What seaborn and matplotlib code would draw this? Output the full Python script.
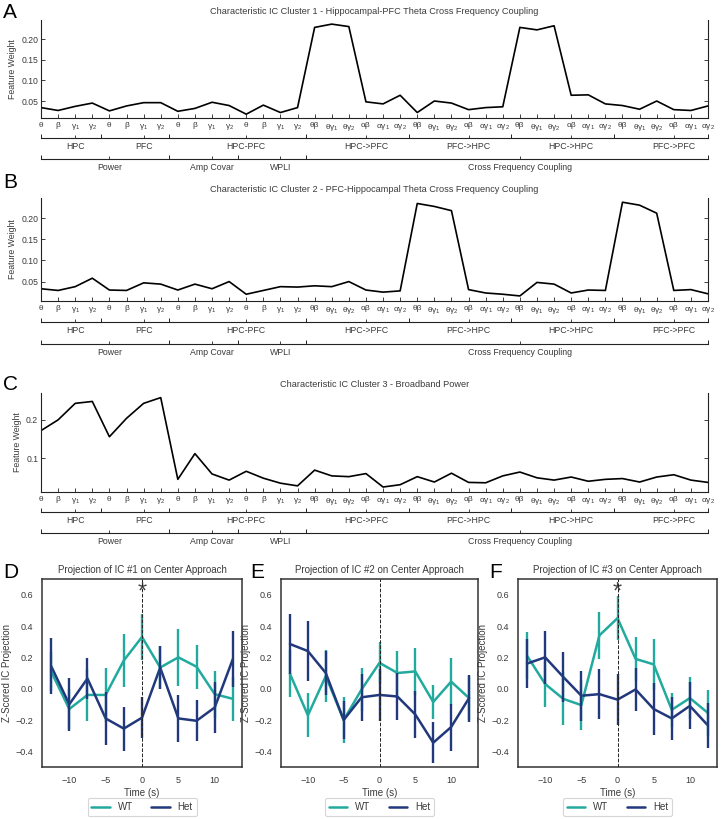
import numpy as np
import pandas as pd
import matplotlib
matplotlib.use("Agg")
import matplotlib.pyplot as plt
import seaborn as sns

# ---------------- data ----------------
feature_labels = (['θ', 'β', r'γ$_1$', r'γ$_2$'] * 4 +
                  ['θβ', r'θγ$_1$', r'θγ$_2$', 'αβ', r'αγ$_1$', r'αγ$_2$'] * 4)

region_groups = ['HPC', 'PFC', 'HPC-PFC', 'HPC->PFC', 'PFC->HPC', 'HPC->HPC', 'PFC->PFC']
region_sizes = [4, 4, 8, 6, 6, 6, 6]
measure_groups = ['Power', 'Amp Covar', 'WPLI', 'Cross Frequency Coupling']
measure_sizes = [8, 4, 4, 24]

cluster1 = [0.034, 0.027, 0.037, 0.045, 0.026, 0.038, 0.046, 0.046,
            0.025, 0.032, 0.047, 0.039, 0.018, 0.040, 0.022, 0.034,
            0.229, 0.237, 0.231, 0.048, 0.043, 0.064,
            0.022, 0.050, 0.045, 0.029, 0.034, 0.036,
            0.229, 0.223, 0.233, 0.064, 0.065, 0.043,
            0.039, 0.030, 0.050, 0.029, 0.027, 0.038]
cluster2 = [0.033, 0.029, 0.038, 0.058, 0.030, 0.029, 0.047, 0.044,
            0.030, 0.044, 0.033, 0.050, 0.020, 0.029, 0.038, 0.037,
            0.040, 0.038, 0.050, 0.030, 0.025, 0.028,
            0.235, 0.228, 0.218, 0.031, 0.023, 0.020,
            0.016, 0.048, 0.044, 0.023, 0.030, 0.029,
            0.238, 0.231, 0.212, 0.029, 0.031, 0.021]
cluster3 = [0.172, 0.200, 0.243, 0.248, 0.156, 0.204, 0.243, 0.258,
            0.045, 0.112, 0.059, 0.043, 0.066, 0.048, 0.035, 0.028,
            0.069, 0.054, 0.052, 0.060, 0.025, 0.031,
            0.052, 0.038, 0.061, 0.037, 0.036, 0.054,
            0.064, 0.049, 0.043, 0.051, 0.040, 0.045,
            0.047, 0.038, 0.051, 0.057, 0.043, 0.037]

cluster_titles = [
    'Characteristic IC Cluster 1 - Hippocampal-PFC Theta Cross Frequency Coupling',
    'Characteristic IC Cluster 2 - PFC-Hippocampal Theta Cross Frequency Coupling',
    'Characteristic IC Cluster 3 - Broadband Power',
]

times = [-12.5, -10, -7.5, -5, -2.5, 0, 2.5, 5, 7.5, 10, 12.5]
genotypes = ['WT', 'Het']

ic1_wt = [0.11, -0.13, -0.04, -0.04, 0.18, 0.33, 0.135, 0.20, 0.14, -0.035, -0.065]
ic1_wt_err = [0.125, 0.13, 0.165, 0.17, 0.17, 0.145, 0.14, 0.18, 0.14, 0.15, 0.14]
ic1_het = [0.145, -0.10, 0.065, -0.19, -0.255, -0.185, 0.135, -0.19, -0.205, -0.12, 0.19]
ic1_het_err = [0.18, 0.17, 0.13, 0.17, 0.14, 0.13, 0.14, 0.15, 0.13, 0.16, 0.18]

ic2_wt = [0.095, -0.17, 0.08, -0.20, -0.005, 0.165, 0.10, 0.11, -0.085, 0.045, -0.06]
ic2_wt_err = [0.15, 0.14, 0.165, 0.145, 0.14, 0.13, 0.14, 0.15, 0.11, 0.15, 0.14]
ic2_het = [0.285, 0.24, 0.10, -0.20, -0.055, -0.04, -0.05, -0.165, -0.345, -0.245, -0.06]
ic2_het_err = [0.19, 0.19, 0.14, 0.12, 0.15, 0.165, 0.15, 0.15, 0.13, 0.15, 0.15]

ic3_wt = [0.21, 0.03, -0.065, -0.105, 0.34, 0.45, 0.19, 0.155, -0.135, -0.06, -0.155]
ic3_wt_err = [0.15, 0.145, 0.17, 0.16, 0.15, 0.14, 0.14, 0.165, 0.11, 0.135, 0.145]
ic3_het = [0.16, 0.20, 0.075, -0.045, -0.035, -0.07, -0.005, -0.13, -0.19, -0.11, -0.235]
ic3_het_err = [0.155, 0.17, 0.16, 0.16, 0.16, 0.165, 0.14, 0.165, 0.14, 0.15, 0.145]

ic_titles = ['Projection of IC #1 on Center Approach',
             'Projection of IC #2 on Center Approach',
             'Projection of IC #3 on Center Approach']
significant = [True, False, True]

# ---------------- style ----------------
sns.set_style('white')
plt.rcParams['font.family'] = ['Liberation Sans', 'DejaVu Sans']
plt.rcParams['mathtext.fontset'] = 'custom'
plt.rcParams['mathtext.rm'] = 'Liberation Sans'
plt.rcParams['mathtext.it'] = 'Liberation Sans:italic'
plt.rcParams['mathtext.default'] = 'regular'

W_PX, H_PX = 721, 819
fig = plt.figure(figsize=(W_PX / 100, H_PX / 100), dpi=100)

def rect(left, top, right, bottom):
    return [left / W_PX, 1 - bottom / H_PX, (right - left) / W_PX, (bottom - top) / H_PX]

text_col = '#3a3a3a'
palette = {'WT': '#22aa9e', 'Het': '#22387c'}

# ---------------- top panels ----------------
top_specs = [
    dict(data=cluster1, top=20, bottom=118, ylim=(0.0087, 0.247),
         yticks=[0.05, 0.10, 0.15, 0.20], fmt='{:.2f}', row1=138, row2=159, letter='A', ly=12),
    dict(data=cluster2, top=198, bottom=301, ylim=(0.004, 0.248),
         yticks=[0.05, 0.10, 0.15, 0.20], fmt='{:.2f}', row1=322, row2=344, letter='B', ly=183),
    dict(data=cluster3, top=393, bottom=492, ylim=(0.012, 0.270),
         yticks=[0.1, 0.2], fmt='{:.1f}', row1=512, row2=533, letter='C', ly=385),
]
L_PX, R_PX = 41, 708
n_feat = len(feature_labels)


def bracket(y_px, names, sizes):
    bax = fig.add_axes(rect(L_PX, y_px, R_PX, y_px + 0.1))
    bax.set_xlim(0, n_feat - 1)
    bax.set_ylim(0, 1)
    for s in ['top', 'left', 'right']:
        bax.spines[s].set_visible(False)
    bax.spines['bottom'].set_linewidth(0.8)
    bax.spines['bottom'].set_color('#222222')
    sizes = np.array(sizes)
    starts = np.concatenate([[0], np.cumsum(sizes)[:-1]])
    ends = starts + sizes - 1
    bounds = [0] + list(ends[:-1] + 0.5) + [n_feat - 1]
    centers = (starts + ends + 1) / 2
    bax.set_xticks(bounds)
    bax.set_xticklabels([''] * len(bounds))
    bax.set_xticks(centers, minor=True)
    bax.set_xticklabels(names, minor=True)
    bax.tick_params(axis='x', which='major', bottom=True, direction='in', length=3,
                    width=0.7, color='#222222')
    bax.tick_params(axis='x', which='minor', bottom=True, direction='in', length=2,
                    width=0.6, color='#222222', labelsize=6.3, pad=3, labelcolor=text_col)
    bax.set_yticks([])
    bax.patch.set_alpha(0)


for spec, title in zip(top_specs, cluster_titles):
    ax = fig.add_axes(rect(L_PX, spec['top'], R_PX, spec['bottom']))
    sns.lineplot(x=np.arange(n_feat), y=spec['data'], ax=ax, color='black', lw=1.2)
    ax.set_xlim(0, n_feat - 1)
    ax.set_ylim(*spec['ylim'])
    ax.set_xticks(np.arange(n_feat))
    ax.set_xticklabels(feature_labels)
    ax.set_yticks(spec['yticks'])
    ax.set_yticklabels([spec['fmt'].format(v) for v in spec['yticks']])
    ax.spines['top'].set_visible(False)
    for s in ['left', 'right', 'bottom']:
        ax.spines[s].set_linewidth(0.8)
        ax.spines[s].set_color('#222222')
    ax.tick_params(axis='both', which='major', direction='in', length=3, width=0.6,
                   color='#222222', labelcolor=text_col)
    ax.tick_params(axis='x', bottom=True, labelsize=6, pad=3)
    ax.tick_params(axis='y', left=True, right=True, labelright=False, labelsize=6.2, pad=2)
    ax.set_ylabel('Feature Weight', fontsize=6.3, color=text_col, labelpad=3)
    ax.set_title(title, fontsize=6.6, color=text_col, pad=4)
    fig.text(3 / W_PX, 1 - spec['ly'] / H_PX, spec['letter'], fontsize=15,
             va='center', ha='left', color='black')
    bracket(spec['row1'], region_groups, region_sizes)
    bracket(spec['row2'], measure_groups, measure_sizes)

# ---------------- bottom panels ----------------
bottom_specs = [
    dict(l=42, r=242, wt=ic1_wt, wte=ic1_wt_err, het=ic1_het, hete=ic1_het_err, letter='D', lx=3),
    dict(l=281, r=478, wt=ic2_wt, wte=ic2_wt_err, het=ic2_het, hete=ic2_het_err, letter='E', lx=250),
    dict(l=518, r=717, wt=ic3_wt, wte=ic3_wt_err, het=ic3_het, hete=ic3_het_err, letter='F', lx=489),
]
B_TOP, B_BOT = 579, 767

for spec, title, sig in zip(bottom_specs, ic_titles, significant):
    ax = fig.add_axes(rect(spec['l'], B_TOP, spec['r'], B_BOT))
    df = pd.DataFrame({
        'time': times * 2,
        'proj': list(spec['wt']) + list(spec['het']),
        'err': list(spec['wte']) + list(spec['hete']),
        'genotype': ['WT'] * len(times) + ['Het'] * len(times),
    })
    sns.lineplot(data=df, x='time', y='proj', hue='genotype', hue_order=genotypes,
                 palette=palette, lw=1.8, ax=ax, errorbar=None)
    for g in genotypes:
        sub = df[df['genotype'] == g]
        ax.errorbar(sub['time'], sub['proj'], yerr=sub['err'], fmt='none',
                    ecolor=palette[g], elinewidth=1.7, capsize=0)
    ax.axvline(0, color='#222222', lw=0.7, ls='--', zorder=5)
    if sig:
        ax.text(0, 0.615, '*', ha='center', va='center', fontsize=17, color='#444444')
    ax.set_xlim(-13.75, 13.75)
    ax.set_ylim(-0.5, 0.7)
    ax.set_xticks([-10, -5, 0, 5, 10])
    yt = [-0.4, -0.2, 0.0, 0.2, 0.4, 0.6]
    ax.set_yticks(yt)
    ax.set_yticklabels(['{:.1f}'.format(v).replace('-', '\u2212') for v in yt])
    ax.tick_params(labelsize=6.5, colors=text_col, pad=3)
    for s in ax.spines.values():
        s.set_linewidth(1.1)
        s.set_color('#333333')
    ax.set_xlabel('Time (s)', fontsize=7, color=text_col, labelpad=2)
    ax.set_ylabel('Z-Scored IC Projection', fontsize=7, color=text_col, labelpad=2)
    ax.set_title(title, fontsize=7, color=text_col, pad=4)
    leg = ax.legend(loc='upper center', bbox_to_anchor=(0.5, -0.14), ncol=2,
                    frameon=True, fontsize=7, handlelength=1.9, columnspacing=1.9,
                    handletextpad=0.8, borderpad=0.4)
    leg.get_frame().set_edgecolor('#cccccc')
    leg.get_frame().set_linewidth(0.8)
    for t in leg.get_texts():
        t.set_color(text_col)
    fig.text(spec['lx'] / W_PX, 1 - 572 / H_PX, spec['letter'], fontsize=15,
             va='center', ha='left', color='black')

fig.savefig('out.png', dpi=100)
